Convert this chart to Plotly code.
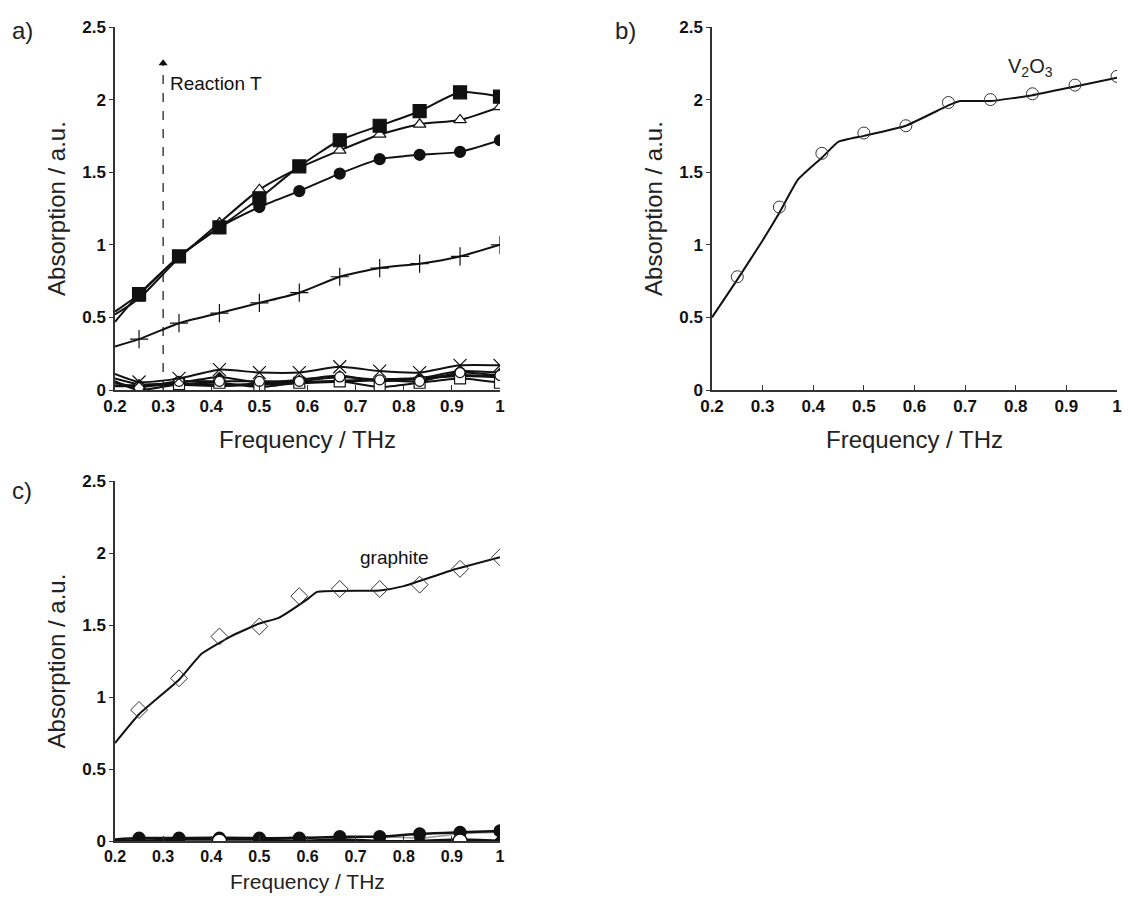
import plotly.graph_objects as go

# ---------------- data ----------------
freq = [0.25, 0.333, 0.417, 0.5, 0.583, 0.667, 0.75, 0.833, 0.917, 1.0]
freq_line = [0.2] + freq

# panel a (start value at 0.2 THz followed by the marker values)
a_sq_fill = [0.54, 0.66, 0.92, 1.12, 1.32, 1.54, 1.72, 1.82, 1.92, 2.05, 2.02]
a_tri_open = [0.52, 0.63, 0.91, 1.15, 1.38, 1.53, 1.65, 1.76, 1.83, 1.86, 1.95]
a_circ_fill = [0.47, 0.66, 0.92, 1.12, 1.26, 1.37, 1.49, 1.59, 1.62, 1.64, 1.72]
a_plus = [0.30, 0.35, 0.46, 0.53, 0.60, 0.67, 0.78, 0.84, 0.87, 0.92, 1.00]
a_x = [0.11, 0.055, 0.08, 0.14, 0.12, 0.12, 0.16, 0.13, 0.12, 0.17, 0.17]
a_sq_open = [0.06, 0.0, 0.04, 0.05, 0.02, 0.05, 0.06, 0.02, 0.05, 0.08, 0.05]
a_circ_open = [0.05, 0.02, 0.06, 0.06, 0.06, 0.06, 0.09, 0.07, 0.06, 0.12, 0.10]
a_dia_fill = [0.08, 0.04, 0.05, 0.09, 0.05, 0.07, 0.10, 0.06, 0.08, 0.13, 0.12]
a_dash = [0.03, 0.03, 0.04, 0.03, 0.04, 0.05, 0.06, 0.07, 0.08, 0.10, 0.09]

# panel b: V2O3
b_v2o3 = [0.78, 1.26, 1.63, 1.77, 1.82, 1.98, 2.0, 2.04, 2.10, 2.16]
b_fit_x = [0.2, 0.25, 0.3, 0.333, 0.37, 0.417, 0.45, 0.5, 0.583, 0.667, 0.69, 0.75, 0.833, 0.917, 1.0]
b_fit_y = [0.5, 0.76, 1.03, 1.22, 1.45, 1.60, 1.71, 1.75, 1.82, 1.96, 1.99, 1.99, 2.03, 2.09, 2.15]

# panel c: graphite
c_graphite = [0.91, 1.13, 1.42, 1.49, 1.70, 1.75, 1.75, 1.78, 1.89, 1.97]
c_fit_x = [0.2, 0.25, 0.333, 0.38, 0.44, 0.5, 0.54, 0.6, 0.62, 0.75, 0.8, 0.9, 1.0]
c_fit_y = [0.68, 0.88, 1.12, 1.30, 1.42, 1.51, 1.55, 1.68, 1.73, 1.74, 1.77, 1.88, 1.97]
c_circ_fill = [0.01, 0.02, 0.02, 0.02, 0.02, 0.02, 0.03, 0.03, 0.05, 0.06, 0.07]
c_circ_open = [0.0, 0.0, 0.0, 0.0, 0.0, 0.0, 0.0, 0.0, 0.0, 0.0, 0.0]
c_dia_fill = [0.0, 0.0, 0.01, 0.01, 0.01, 0.0, 0.01, 0.0, 0.0, 0.01, 0.0]
c_gray = [0.01, 0.01, 0.02, 0.03, 0.02, 0.03, 0.02, 0.03, 0.02, 0.05, 0.06]

x_ticks = [0.2, 0.3, 0.4, 0.5, 0.6, 0.7, 0.8, 0.9, 1.0]
y_ticks = [0, 0.5, 1, 1.5, 2, 2.5]

reaction_x = 0.3
reaction_y = 2.25

FONT = "Liberation Sans, Arial, sans-serif"
INK = "#111111"

fig = go.Figure()

def add_series(xa, ya, xs, ys, symbol, size, filled, lw=2, color=INK, first_marker=False, mlw=1.2):
    sizes = [0 if (i == 0 and not first_marker) else size for i in range(len(xs))]
    fig.add_trace(go.Scatter(
        x=xs, y=ys, xaxis=xa, yaxis=ya, mode="lines+markers",
        line=dict(color=color, width=lw, shape="spline", smoothing=0.6),
        marker=dict(symbol=symbol, size=sizes, opacity=1,
                    color=INK if filled else "white",
                    line=dict(color=INK, width=mlw)),
        showlegend=False, hoverinfo="skip"))

# panel a low series first (so they sit underneath)
add_series("x", "y", freq_line, a_dash, "line-ew", 10, True, lw=3)
add_series("x", "y", freq_line, a_dia_fill, "diamond", 7, True, lw=2)
add_series("x", "y", freq_line, a_sq_open, "square", 11, False, lw=2)
add_series("x", "y", freq_line, a_circ_open, "circle", 10, False, lw=2)
add_series("x", "y", freq_line, a_x, "x-thin", 13, False, lw=2)
add_series("x", "y", freq_line, a_plus, "cross-thin", 13, False, lw=2)
add_series("x", "y", freq_line, a_circ_fill, "circle", 11, True, lw=2)
add_series("x", "y", freq_line, a_tri_open, "triangle-up", 11, False, lw=2)
add_series("x", "y", freq_line, a_sq_fill, "square", 13, True, lw=2)

# Reaction T arrow: dashed shaft plus a triangle head
fig.add_trace(go.Scatter(x=[reaction_x, reaction_x], y=[0, reaction_y], mode="lines",
                         line=dict(color=INK, width=1.2, dash="dash"),
                         showlegend=False, hoverinfo="skip"))
fig.add_trace(go.Scatter(x=[reaction_x], y=[reaction_y], mode="markers",
                         marker=dict(symbol="triangle-up", size=8, color=INK),
                         showlegend=False, hoverinfo="skip"))

# panel b
fig.add_trace(go.Scatter(x=b_fit_x, y=b_fit_y, xaxis="x2", yaxis="y2", mode="lines",
                         line=dict(color=INK, width=2, shape="spline", smoothing=0.4),
                         showlegend=False, hoverinfo="skip"))
fig.add_trace(go.Scatter(x=freq, y=b_v2o3, xaxis="x2", yaxis="y2", mode="markers",
                         marker=dict(symbol="circle-open", size=12, color="#333333",
                                     line=dict(width=1)),
                         showlegend=False, hoverinfo="skip"))

# panel c
add_series("x3", "y3", freq_line, c_gray, "line-ew", 8, True, lw=1.5, color="#999999")
add_series("x3", "y3", freq_line, c_dia_fill, "diamond", 9, True, lw=2.5)
add_series("x3", "y3", freq_line, c_circ_fill, "circle", 12, True, lw=2.5)
fig.add_trace(go.Scatter(x=[freq[2], freq[8]], y=[c_circ_open[3], c_circ_open[9]],
                         xaxis="x3", yaxis="y3", mode="markers",
                         marker=dict(symbol="circle", size=14, color="white",
                                     line=dict(color=INK, width=1.5)),
                         showlegend=False, hoverinfo="skip"))
fig.add_trace(go.Scatter(x=c_fit_x, y=c_fit_y, xaxis="x3", yaxis="y3", mode="lines",
                         line=dict(color=INK, width=2, shape="spline", smoothing=0.4),
                         showlegend=False, hoverinfo="skip"))
fig.add_trace(go.Scatter(x=freq, y=c_graphite, xaxis="x3", yaxis="y3", mode="markers",
                         marker=dict(symbol="diamond-open", size=13, color="#333333",
                                     line=dict(width=1)),
                         showlegend=False, hoverinfo="skip"))

# page has an 8px body margin, so the figure is placed at (8, 8)
OFF = 8
W, H = 1126, 885
def xd(a, b):
    return [(a - OFF) / W, (b - OFF) / W]
def yd(top, bottom):
    return [1 - (bottom - OFF) / H, 1 - (top - OFF) / H]

tickfont = dict(family=FONT, size=17, color=INK, weight="bold")
tickfont_c = dict(family=FONT, size=16, color=INK, weight="bold")
titlefont = dict(family=FONT, size=24, color="#222222")

def xaxis(domain, anchor, title=True, tf=tickfont):
    d = dict(domain=domain, anchor=anchor, range=[0.2, 1.0], tickvals=x_ticks,
             showline=True, linecolor="#333333", linewidth=1.5, ticks="inside",
             ticklen=5, tickcolor="#333333", showgrid=False, zeroline=False, automargin=False,
             tickfont=tf)
    if title:
        d["title"] = dict(text="Frequency / THz", font=titlefont, standoff=16)
    return d

def yaxis(domain, anchor):
    return dict(domain=domain, anchor=anchor, range=[0, 2.5], tickvals=y_ticks,
                showline=True, linecolor="#333333", linewidth=1.5, ticks="outside",
                ticklen=4, tickcolor="#333333", showgrid=False, zeroline=False, automargin=False,
                tickfont=tickfont, title=dict(text="Absorption / a.u.", font=titlefont, standoff=10))

fig.update_layout(
    width=W, height=H, margin=dict(l=0, r=0, t=0, b=0, autoexpand=False),
    paper_bgcolor="white", plot_bgcolor="white",
    xaxis=xaxis(xd(115, 500), "y"), yaxis=yaxis(yd(27, 390), "x"),
    xaxis2=xaxis(xd(712, 1117), "y2"), yaxis2=yaxis(yd(27, 390), "x2"),
    xaxis3=xaxis(xd(115, 500), "y3", title=False, tf=tickfont_c), yaxis3=yaxis(yd(481, 841), "x3"),
)

# panel c x title, placed at the very bottom of the page
fig.add_annotation(xref="x3 domain", yref="paper", x=0.5, y=0, yanchor="bottom", showarrow=False,
                   yshift=-2, text="Frequency / THz", font=dict(family=FONT, size=21, color="#222222"))

fig.add_annotation(xref="x", yref="y", x=0.31, y=2.11, text="Reaction T", showarrow=False,
                   xanchor="left", font=dict(family=FONT, size=19, color=INK))

fig.add_annotation(xref="x2", yref="y2", x=0.83, y=2.22, text="V<sub>2</sub>O<sub>3</sub>", showarrow=False,
                   font=dict(family=FONT, size=20, color="#222222"))
fig.add_annotation(xref="x3", yref="y3", x=0.78, y=1.97, text="graphite", showarrow=False,
                   font=dict(family=FONT, size=19, color=INK))

for txt, px, py in [("a)", 22, 30), ("b)", 625, 30), ("c)", 22, 490)]:
    fig.add_annotation(xref="paper", yref="paper", x=(px - OFF) / W, y=1 - (py - OFF) / H, text=txt,
                       showarrow=False, xanchor="center", yanchor="middle",
                       font=dict(family=FONT, size=24, color="#222222"))

fig.write_html("out.html")
